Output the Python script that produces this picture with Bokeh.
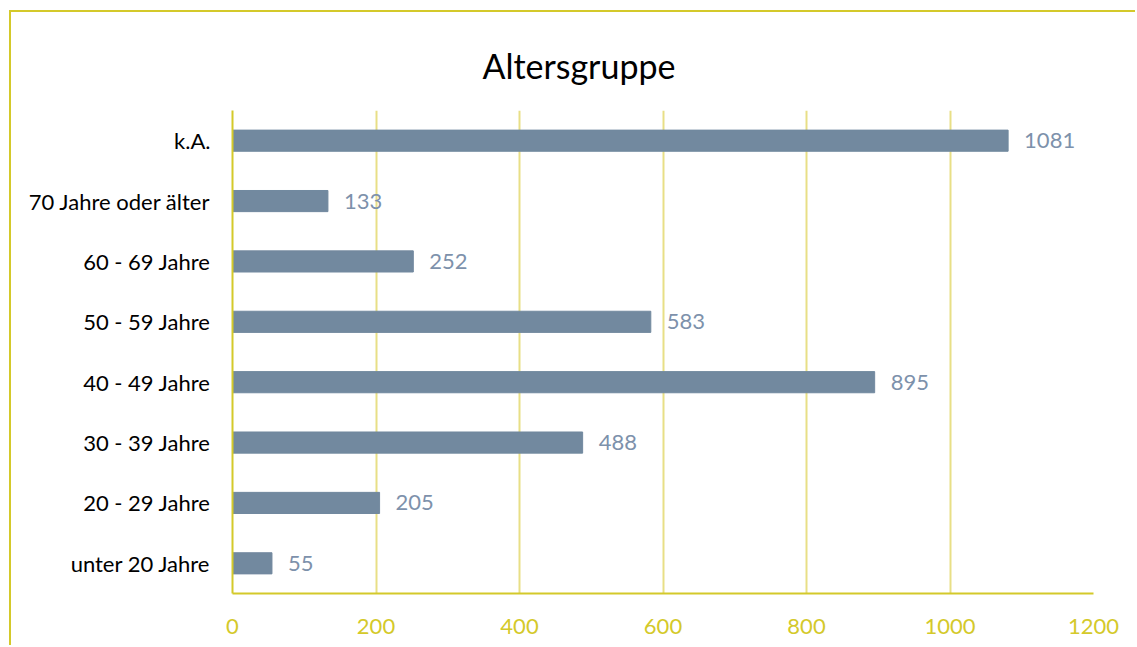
from bokeh.plotting import figure
from bokeh.models import ColumnDataSource, FactorRange, LabelSet
from bokeh.core.properties import value
from bokeh.embed import file_html
from bokeh.resources import INLINE

categories = ["unter 20 Jahre", "20 - 29 Jahre", "30 - 39 Jahre", "40 - 49 Jahre",
              "50 - 59 Jahre", "60 - 69 Jahre", "70 Jahre oder älter", "k.A."]
values = [55, 205, 488, 895, 583, 252, 133, 1081]
x_ticks = [0, 200, 400, 600, 800, 1000, 1200]
title_text = "Altersgruppe"

YEL = "#d4c92a"
GRID = "#e8df86"
BAR = "#72899f"
LBL = "#7d91ab"
FONT = "Lato"

src = ColumnDataSource(dict(cat=categories, val=values, txt=[str(v) for v in values]))

p = figure(width=1126, height=635, y_range=FactorRange(factors=categories, range_padding=0),
           x_range=(0, 1200), output_backend="svg", toolbar_location=None,
           title=title_text,
           min_border_left=221, min_border_right=44, min_border_top=98, min_border_bottom=54,
           margin=(10, 0, 0, 9),
           styles={"border-top": f"2px solid {YEL}", "border-left": f"2px solid {YEL}"})
p.outline_line_color = None
p.background_fill_color = "white"

p.title.align = "left"
p.title.offset = 250
p.title.text_font = FONT
p.title.text_font_size = "34px"
p.title.text_font_style = "normal"
p.title.text_color = "black"
p.title.standoff = 50

p.hbar(y="cat", right="val", left=0, height=0.35, source=src, color=BAR)

labels = LabelSet(x="val", y="cat", text="txt", source=src, x_offset=16,
                  text_baseline="middle", text_color=LBL, text_font=value(FONT),
                  text_font_size="22px")
p.add_layout(labels)

p.xaxis.ticker = x_ticks
p.xaxis.axis_line_color = YEL
p.xaxis.axis_line_width = 2
p.xaxis.major_tick_line_color = None
p.xaxis.minor_tick_line_color = None
p.xaxis.major_label_text_color = YEL
p.xaxis.major_label_text_font = FONT
p.xaxis.major_label_text_font_size = "22px"
p.xaxis.major_label_standoff = 19

p.yaxis.axis_line_color = YEL
p.yaxis.axis_line_width = 2
p.yaxis.major_tick_line_color = None
p.yaxis.minor_tick_line_color = None
p.yaxis.major_label_text_color = "black"
p.yaxis.major_label_text_font = FONT
p.yaxis.major_label_text_font_size = "22px"
p.yaxis.major_label_standoff = 16

p.xgrid.grid_line_color = GRID
p.xgrid.grid_line_width = 2
p.ygrid.grid_line_color = None

open("out.html", "w").write(file_html(p, INLINE))
